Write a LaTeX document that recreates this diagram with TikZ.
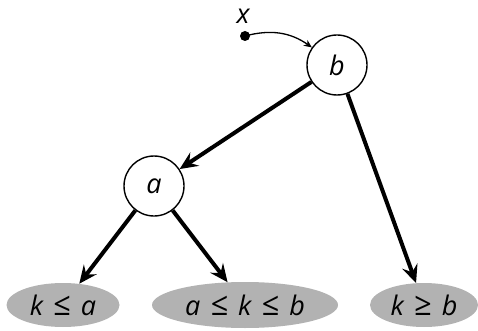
\documentclass[tikz,border=0pt]{standalone}
\usepackage{fontspec}
\setmainfont{Open Sans}
\usetikzlibrary{arrows.meta,shapes.geometric}
\newcommand\gp{\hspace{10pt}}
\newcommand\rel[1]{\gp{\fontsize{32}{30}\selectfont #1}\gp}
\begin{document}
\begin{tikzpicture}[x=1pt,y=-1pt,
  font=\fontsize{27}{30}\selectfont\itshape,
  circ/.style={draw,circle,line width=1.4pt,minimum size=60pt,inner sep=0pt,fill=white},
  leaf/.style={ellipse,fill=gray!60,inner sep=0pt},
  big/.style={line width=4pt,-{Stealth[length=18pt,width=16pt,inset=6.5pt]}},
  small/.style={line width=1.3pt,-{Stealth[length=8pt,width=7pt,inset=2.5pt]}}]
\useasboundingbox (0,0) rectangle (478,331);
\node[circ] (b) at (337,65) {b};
\node[circ] (a) at (154,186) {a};
\node[leaf,minimum width=113pt,minimum height=44pt] (l1) at (63,305) {k\rel{≤}a};
\node[leaf,minimum width=186pt,minimum height=46pt] (l2) at (245,305) {a\rel{≤}k\rel{≤}b};
\node[leaf,minimum width=108pt,minimum height=44pt] (l3) at (424,305) {k\rel{≥}b};
\coordinate (xd) at (245,36);
\fill (xd) circle (5pt);
\node[inner sep=0pt] (xl) at (243,16) {x};
\draw[big] (b) -- (a);
\draw[big] (b) -- (l3);
\draw[big] (a) -- (l1);
\draw[big] (a) -- (l2);
\draw[small] (xd) to[out=15,in=145] (b);
\end{tikzpicture}
\end{document}
